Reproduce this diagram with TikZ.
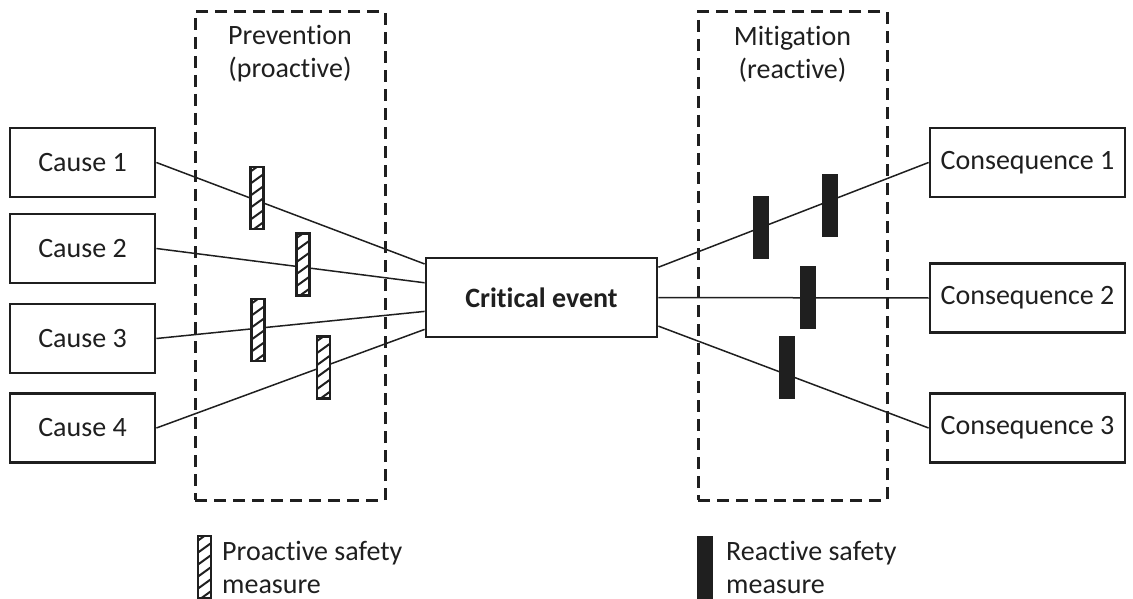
\documentclass[tikz,border=0pt]{standalone}
\usepackage{fontspec}
\setmainfont[Ligatures=NoCommon]{Carlito}
\usetikzlibrary{calc}
\definecolor{ink}{gray}{0.12}
\begin{document}
\begin{tikzpicture}[x=1pt,y=-1pt,
  every node/.style={text=ink, font=\fontsize{28}{33}\selectfont},
  box/.style={draw=ink, line width=2.8pt, fill=white, inner sep=0pt},
  causebox/.style={box, minimum width=145pt, minimum height=69pt},
  consbox/.style={box, minimum width=195pt, minimum height=69pt},
  zone/.style={draw=ink, line width=3pt, dash pattern=on 12pt off 7pt, inner sep=0pt},
  link/.style={draw=ink, line width=1.5pt},
  proactive/.style={draw=ink, fill=white, line width=2.2pt, inner sep=0pt,
    minimum width=13pt, minimum height=62pt,
    path picture={
      \foreach \k in {0,...,6}
        \draw[ink, line width=2pt]
          ($(path picture bounding box.south west)+(-2,{-\k*12+4})$) -- ++(18,-13);
    }},
  reactive/.style={draw=ink, fill=ink, line width=0.5pt, inner sep=0pt,
    minimum width=15pt, minimum height=62pt},
  legendtext/.style={anchor=west, align=left, inner sep=0pt}
]
\useasboundingbox (0,0) rectangle (1133,599);

% dashed zones for the two kinds of measures
\node[zone, minimum width=190pt, minimum height=488pt] (prevzone) at (290,256) {};
\node[zone, minimum width=189pt, minimum height=488pt] (mitzone) at (792.5,256) {};
\node[align=center, inner sep=0pt] (prevlbl) at (290,54) {Prevention\\(proactive)};
\node[align=center, inner sep=0pt] (mitlbl) at (792.5,54) {Mitigation\\(reactive)};

% causes, critical event, consequences
\node[causebox] (c1) at (82.5,162.5) {Cause 1};
\node[causebox] (c2) at (82.5,248.5) {Cause 2};
\node[causebox] (c3) at (82.5,338.5) {Cause 3};
\node[causebox] (c4) at (82.5,428) {Cause 4};
\node[box, minimum width=231pt, minimum height=79pt, font=\fontsize{28}{33}\selectfont\bfseries] (ce) at (541.5,297.5) {Critical event};
\node[consbox] (q1) at (1027.5,162.5) {Consequence 1};
\node[consbox] (q2) at (1027.5,298) {Consequence 2};
\node[consbox] (q3) at (1027.5,428) {Consequence 3};

% connectors
\draw[link] (c1.east) -- ($(ce.north west)!0.09!(ce.south west)$);
\draw[link] (c2.east) -- ($(ce.north west)!0.32!(ce.south west)$);
\draw[link] (c3.east) -- ($(ce.north west)!0.67!(ce.south west)$);
\draw[link] (c4.east) -- ($(ce.north west)!0.89!(ce.south west)$);
\draw[link] ($(ce.north east)!0.13!(ce.south east)$) -- (q1.west);
\draw[link] ($(ce.north east)!0.50!(ce.south east)$) -- (q2.west);
\draw[link] ($(ce.north east)!0.85!(ce.south east)$) -- (q3.west);

% proactive safety measures
\node[proactive] (p1) at (257,198) {};
\node[proactive] (p2) at (303,264.5) {};
\node[proactive] (p3) at (258,330) {};
\node[proactive] (p4) at (323.5,367.5) {};

% reactive safety measures
\node[reactive] (r1) at (761,227) {};
\node[reactive] (r2) at (830,205) {};
\node[reactive] (r3) at (808,297.5) {};
\node[reactive] (r4) at (787,367.5) {};

% legend
\node[proactive] (pleg) at (204.5,567) {};
\node[legendtext] (plegtxt) at (222,567) {Proactive safety\\measure};
\node[reactive] (rleg) at (704.5,567) {};
\node[legendtext] (rlegtxt) at (726,567) {Reactive safety\\measure};
\end{tikzpicture}
\end{document}
